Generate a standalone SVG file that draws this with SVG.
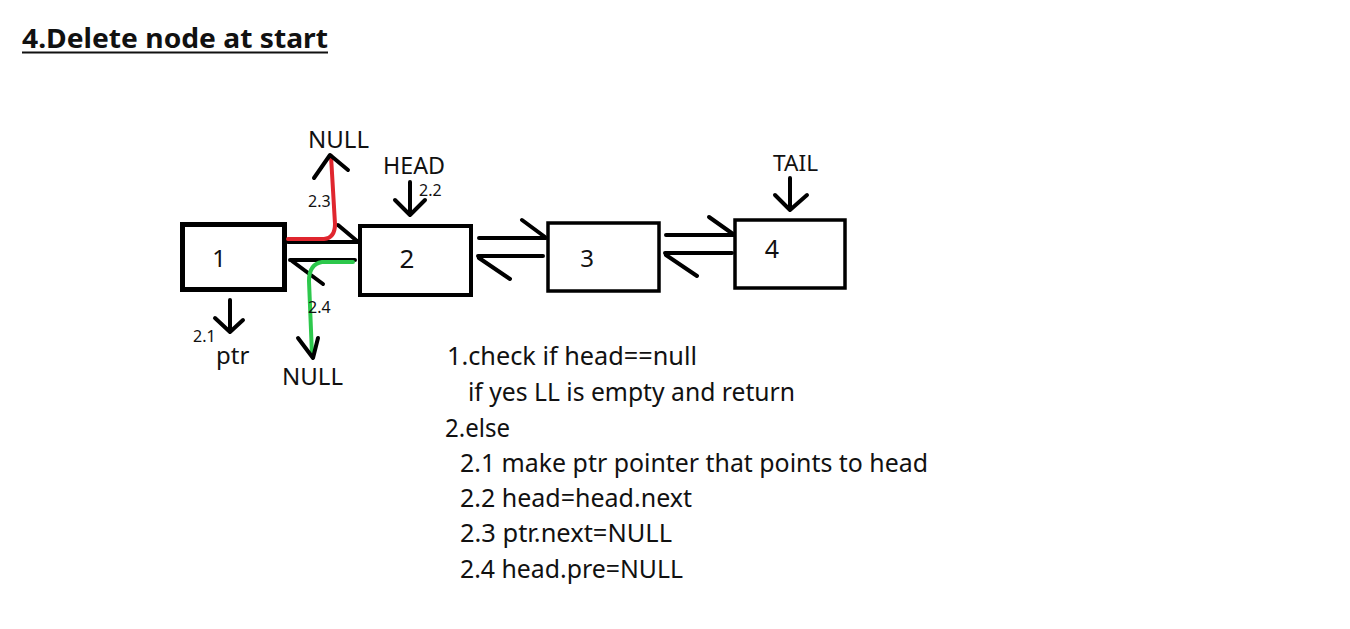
<svg xmlns="http://www.w3.org/2000/svg" width="1350" height="629" viewBox="0 0 1350 629">
<style>
text{font-family:"Noto Sans","Open Sans","DejaVu Sans",sans-serif;fill:#111;}
.box{fill:#fff;stroke:#000;}
.ln{stroke:#000;stroke-width:4;fill:none;stroke-linecap:round;stroke-linejoin:round;}
.sm{font-size:16px;}
.step{font-size:25px;}
.num{text-anchor:middle;}
</style>
<rect width="1350" height="629" fill="#fff"/>
<text x="22" y="48" font-size="27" font-weight="bold" textLength="306" lengthAdjust="spacingAndGlyphs">4.Delete node at start</text>
<line x1="22" y1="52.5" x2="328" y2="52.5" stroke="#111" stroke-width="2"/>

<g id="node1"><rect class="box" x="182.5" y="224.5" width="102" height="65" stroke-width="5"/><text class="num" x="219" y="267" font-size="24">1</text></g>
<g id="node2"><rect class="box" x="360" y="226" width="111" height="69" stroke-width="4"/><text class="num" x="407" y="268" font-size="26">2</text></g>
<g id="node3"><rect class="box" x="548" y="223" width="111" height="68" stroke-width="3.5"/><text class="num" x="587" y="267" font-size="24">3</text></g>
<g id="node4"><rect class="box" x="735" y="220" width="110" height="68" stroke-width="3.5"/><text class="num" x="772" y="258" font-size="25">4</text></g>

<g id="connectors">
<path class="ln" d="M288,242 L358,242 M338,225 L357,241"/>
<path class="ln" d="M355,260 L290,260 M292,261 L323,284"/>
<path class="ln" d="M479,238 L546,238 M522,220 L545,237"/>
<path class="ln" d="M543,256 L478,256 M479,258 L510,279"/>
<path class="ln" d="M666,235 L734,235 M709,217 L733,234"/>
<path class="ln" d="M732,253 L665,253 M666,255 L697,276"/>
<path d="M288,239 L324,239 Q335,238 335,224 L331,156" fill="none" stroke="#e0262e" stroke-width="4" stroke-linecap="round"/>
<path d="M353,262 L322,262 Q309,264 309,281 L312,355" fill="none" stroke="#2dc84c" stroke-width="4" stroke-linecap="round"/>
<polyline class="ln" points="314,178 330,155 348,170"/>
<polyline class="ln" points="298,338 313,358 318,338"/>
<path class="ln" d="M410,182 L410,215 M395,200 L410,215 L425,200"/>
<path class="ln" d="M790,178 L790,210 M775,195 L790,210 L807,195"/>
<path class="ln" d="M230,300 L230,332 M215,318 L230,332 L243,320"/>
</g>

<g id="labels">
<text x="308" y="148" font-size="24" textLength="61" lengthAdjust="spacingAndGlyphs">NULL</text>
<text x="383" y="174" font-size="23" textLength="62" lengthAdjust="spacingAndGlyphs">HEAD</text>
<text class="sm" x="419" y="196">2.2</text>
<text x="773" y="171" font-size="21" textLength="45" lengthAdjust="spacingAndGlyphs">TAIL</text>
<text class="sm" x="308" y="207">2.3</text>
<text class="sm" x="308" y="313">2.4</text>
<text class="sm" x="193" y="342">2.1</text>
<text x="216" y="364" font-size="24">ptr</text>
<text x="282" y="385" font-size="24" textLength="61" lengthAdjust="spacingAndGlyphs">NULL</text>
</g>

<g id="steps">
<text class="step" x="447" y="365" textLength="250" lengthAdjust="spacingAndGlyphs">1.check if head==null</text>
<text class="step" x="468" y="401" textLength="327" lengthAdjust="spacingAndGlyphs">if yes LL is empty and return</text>
<text class="step" x="445" y="437" textLength="65" lengthAdjust="spacingAndGlyphs">2.else</text>
<text class="step" x="460" y="472" textLength="468" lengthAdjust="spacingAndGlyphs">2.1 make ptr pointer that points to head</text>
<text class="step" x="460" y="507" textLength="232" lengthAdjust="spacingAndGlyphs">2.2 head=head.next</text>
<text class="step" x="460" y="542" textLength="212" lengthAdjust="spacingAndGlyphs">2.3 ptr.next=NULL</text>
<text class="step" x="460" y="578" textLength="223" lengthAdjust="spacingAndGlyphs">2.4 head.pre=NULL</text>
</g>
</svg>
